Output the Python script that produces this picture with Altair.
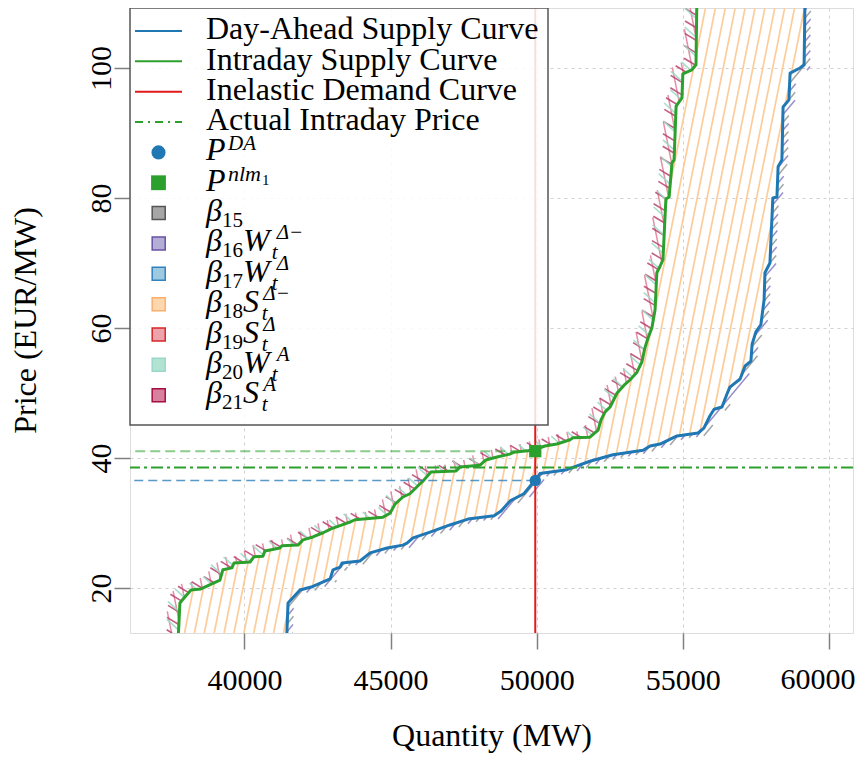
import altair as alt
import numpy as np
import pandas as pd

# ---------------- values ----------------
green_q = [37740, 37740, 37790, 37900, 38170, 38510, 39160, 39260, 39570, 39640,
           40190, 40320, 40630, 40700, 41210, 41280, 41830, 42000, 42340, 42690,
           42960, 43340, 43610, 43780, 44740, 44980, 45150, 45420, 45660, 46000,
           46140, 46380, 47240, 47370, 48060, 48260, 48640, 49080, 49220, 49670,
           50010, 50280, 50690, 51140, 51240, 51820, 52100, 52200, 52340, 52510,
           52750, 52990, 53190, 53430, 53600, 53700, 53810, 53940, 54050, 54110,
           54220, 54320, 54420, 54530, 54630, 54700, 54770, 54970, 55000, 55310,
           55450, 55480, 55480]
green_p = [5, 13.1, 17.7, 18.3, 19.7, 19.85, 21.2, 22.8, 23.1, 23.85,
           24.0, 24.8, 24.9, 25.7, 26.15, 26.5, 26.6, 27.4, 27.85, 28.5,
           29.1, 29.7, 30.15, 30.5, 30.9, 31.5, 32.9, 34.0, 34.5, 36.0,
           36.6, 37.85, 38.0, 38.6, 38.9, 39.7, 40.15, 40.6, 40.9, 41.1,
           41.4, 41.85, 42.15, 42.8, 43.1, 43.2, 44.3, 45.85, 47.1, 47.85,
           50.0, 51.2, 52.0, 53.2, 54.8, 56.9, 58.5, 60.0, 62.8, 68.5,
           69.5, 70.5, 79.85, 80.15, 85.4, 85.85, 94.15, 95.4, 99.1, 99.7,
           100.5, 110.5, 130]
blue_q = [41450, 41450, 41490, 41900, 42280, 42930, 43030, 43270, 43340, 43950,
          44300, 44880, 45420, 45560, 45770, 46350, 47030, 47650, 48540, 48780,
          49090, 49560, 49800, 49950, 50110, 51030, 51820, 52610, 53640, 53880,
          54220, 54800, 55520, 55720, 55930, 56070, 56340, 56510, 56610, 56960,
          57130, 57330, 57370, 57500, 57670, 57780, 57810, 57980, 58080, 58220,
          58260, 58390, 58430, 58630, 58670, 59010, 59150, 59180, 59180]
blue_p = [5, 13.1, 17.7, 19.7, 20.15, 21.4, 22.8, 23.2, 23.85, 24.15,
          25.4, 26.15, 26.6, 26.9, 27.7, 28.6, 29.7, 30.6, 31.1, 31.85,
          33.4, 34.5, 35.8, 36.55, 37.6, 38.2, 39.5, 40.5, 41.2, 41.85,
          42.15, 43.4, 43.85, 44.6, 46.5, 47.5, 47.85, 49.85, 50.9, 52.15,
          54.15, 54.9, 57.5, 59.4, 60.5, 64.3, 68.5, 70.0, 80.0, 80.15,
          84.8, 85.85, 94.0, 95.1, 99.2, 100.0, 100.5, 110.5, 130]
demand_q = 49950
price_da = 36.55
price_nlm = 41.05
price_actual = 38.55
x_ticks = [40000, 45000, 50000, 55000, 60000]
y_ticks = [20, 40, 60, 80, 100]
line_labels = ["Day-Ahead Supply Curve", "Intraday Supply Curve",
               "Inelastic Demand Curve", "Actual Intraday Price"]
beta_numbers = ["15", "16", "17", "18", "19", "20", "21"]
beta_vars = ["", "W", "W", "S", "S", "W", "S"]
beta_sups = ["", "\u0394\u2212", "\u0394", "\u0394\u2212", "\u0394", "A", "A"]

# ---------------- layout / style ----------------
W, H = 723, 625
X0, X1 = 36082, 60823
Y0, Y1 = 13.077, 109.23
SERIF = "Liberation Serif"
MW_PX = (X1 - X0) / W
P_PX = (Y1 - Y0) / H

gq, gp = np.array(green_q, float), np.array(green_p, float)
bq, bp = np.array(blue_q, float), np.array(blue_p, float)


def pg(q):
    return np.interp(q, gq, gp)


def pb(q):
    return np.interp(q, bq, bp)


def hatch(inside, slope, spacing, phase, step=0.4):
    """Hatch lines (pixel slope) clipped to a region defined in data space."""
    ys = np.arange(0.0, H + 1e-9, step)
    cc = [0.0, W, -H / slope, W - H / slope]
    cmin, cmax = min(cc), max(cc)
    k0 = np.floor((cmin - phase) / spacing)
    k1 = np.ceil((cmax - phase) / spacing)
    segs = []
    for k in np.arange(k0, k1 + 1):
        c = phase + spacing * k
        xs = c + ys / slope
        q = X0 + xs * MW_PX
        p = Y0 + ys * P_PX
        ok = (xs >= 0) & (xs <= W) & inside(q, p)
        if not ok.any():
            continue
        d = np.diff(np.concatenate([[0], ok.astype(int), [0]]))
        starts = np.where(d == 1)[0]
        ends = np.where(d == -1)[0] - 1
        for s, e in zip(starts, ends):
            if e > s:
                segs.append((q[s], p[s], q[e], p[e]))
    return pd.DataFrame(segs, columns=["q1", "p1", "q2", "p2"])


main_region = lambda q, p: (p < pg(q)) & (p > pb(q))
green_band = lambda q, p: (p > pg(q)) & (p < pg(q + 12 * MW_PX) + 6 * P_PX)
blue_band = lambda q, p: (p < pb(q)) & (p > pb(q - 6 * MW_PX) - 3 * P_PX)

xscale = alt.Scale(domain=[X0, X1], nice=False, zero=False)
yscale = alt.Scale(domain=[Y0, Y1], nice=False, zero=False)
x_axis = alt.Axis(values=x_ticks, format="d", title="Quantity (MW)",
                  labelExpr="datum.value >= %d ? '' : datum.label" % x_ticks[-1],
                  labelFont=SERIF, labelFontSize=30, labelColor="black",
                  labelPadding=16, labelFlush=False, labelOverlap=False,
                  labelBaseline="top",
                  tickSize=16, tickColor="#808080", tickWidth=1.5, domain=False,
                  grid=True, gridColor="#d0d0d0", gridDash=[3, 4], gridWidth=1,
                  titleFont=SERIF, titleFontSize=32, titleFontWeight="normal",
                  titleColor="black", titleX=361.5, titleY=112,
                  titleBaseline="alphabetic", titleAlign="center")
y_axis = alt.Axis(values=y_ticks, format="d", title="Price (EUR/MW)",
                  labelFont=SERIF, labelFontSize=30, labelColor="black",
                  labelAngle=270, labelAlign="center", labelBaseline="alphabetic",
                  labelPadding=4, labelFlush=False, labelOverlap=False,
                  tickSize=16, tickColor="#808080", tickWidth=1.5, domain=False,
                  grid=True, gridColor="#d0d0d0", gridDash=[3, 4], gridWidth=1,
                  titleFont=SERIF, titleFontSize=32, titleFontWeight="normal",
                  titleColor="black", titleAngle=270, titleX=-95, titleY=312,
                  titleBaseline="alphabetic", titleAlign="center")


def X(f):
    return alt.X(f, type="quantitative", scale=xscale, axis=x_axis)


def Y(f):
    return alt.Y(f, type="quantitative", scale=yscale, axis=y_axis)


def seg_layer(df, color, width, opacity=1.0):
    return alt.Chart(df).mark_rule(color=color, strokeWidth=width, opacity=opacity,
                                   clip=True).encode(
        x=X("q1"), y=Y("p1"), x2="q2", y2="p2")


layers = []
layers.append(seg_layer(hatch(main_region, 5.0, 9.9, 5.0), "#fdcc9a", 1.7))
layers.append(seg_layer(hatch(green_band, -5.0, 9.9, 2.0), "#e07b95", 1.5, 0.85))
layers.append(seg_layer(hatch(green_band, -0.6, 21.0, 0.0), "#b8436e", 1.6, 0.85))
layers.append(seg_layer(hatch(green_band, -0.9, 21.0, 10.0), "#9fd9c5", 1.6, 0.9))
layers.append(seg_layer(hatch(blue_band, 1.2, 13.0, 0.0), "#8d83c4", 1.5, 0.9))
layers.append(seg_layer(hatch(blue_band, 1.2, 13.0, 6.5), "#9a9a9a", 1.5, 0.9))

blue_df = pd.DataFrame({"q": blue_q, "p": blue_p, "i": range(len(blue_q))})
green_df = pd.DataFrame({"q": green_q, "p": green_p, "i": range(len(green_q))})
layers.append(alt.Chart(blue_df).mark_line(color="#1f77b4", strokeWidth=3, clip=True,
                                           strokeJoin="round").encode(
    x=X("q"), y=Y("p"), order="i:Q"))
layers.append(alt.Chart(green_df).mark_line(color="#2ca02c", strokeWidth=3, clip=True,
                                            strokeJoin="round").encode(
    x=X("q"), y=Y("p"), order="i:Q"))

ref_df = pd.DataFrame({"q": [demand_q], "pda": [price_da], "pn": [price_nlm],
                       "pa": [price_actual]})
layers.append(alt.Chart(ref_df).mark_rule(color="#1f77b4", strokeWidth=1.5, opacity=0.75,
                                          strokeDash=[9, 5]).encode(
    x=X("q"), x2=alt.value(0), y=Y("pda")))
layers.append(alt.Chart(ref_df).mark_rule(color="#2ca02c", strokeWidth=2, opacity=0.55,
                                          strokeDash=[10, 5]).encode(
    x=X("q"), x2=alt.value(0), y=Y("pn")))
layers.append(alt.Chart(ref_df).mark_rule(color="#2ca02c", strokeWidth=2,
                                          strokeDash=[12, 4, 3, 4]).encode(y=Y("pa")))
layers.append(alt.Chart(ref_df).mark_rule(color="#e31a1c", strokeWidth=2).encode(x=X("q")))
layers.append(alt.Chart(ref_df).mark_point(shape="circle", filled=True, size=130,
                                           color="#1f77b4", opacity=1).encode(
    x=X("q"), y=Y("pda")))
layers.append(alt.Chart(ref_df).mark_point(shape="square", filled=True, size=150,
                                           color="#2ca02c", opacity=1).encode(
    x=X("q"), y=Y("pn")))

# last x tick label, nudged left so it stays inside the page
last_tick = pd.DataFrame({"v": [x_ticks[-1]], "t": [str(x_ticks[-1])]})
layers.append(alt.Chart(last_tick).mark_text(font=SERIF, fontSize=30, color="black",
                                             baseline="top", align="center", dx=-11).encode(
    x=X("v"), y=alt.value(H + 32), text="t:N"))

# ---------------- manual legend ----------------
one = pd.DataFrame({"k": [0]})
layers.append(alt.Chart(one).mark_rect(fill="white", fillOpacity=0.85, stroke="#555555",
                                       strokeWidth=1.5).encode(
    x=alt.value(0), x2=alt.value(418), y=alt.value(0), y2=alt.value(417)))

ROW0, STEP = 23.0, 30.35
TX = 76


def row_y(i):
    return ROW0 + STEP * i


def txt(s, x, y, size, italic):
    kw = dict(font=SERIF, fontSize=size, align="left", baseline="alphabetic",
              color="black")
    if italic:
        kw["fontStyle"] = "italic"
    return alt.Chart(one).mark_text(**kw).encode(
        x=alt.value(x), y=alt.value(y), text=alt.value(s))


line_cols = ["#1f77b4", "#2ca02c", "#e31a1c", "#2ca02c"]
for i, (lab, col) in enumerate(zip(line_labels, line_cols)):
    kw = dict(color=col, strokeWidth=2)
    if i == 3:
        kw["strokeDash"] = [8, 5, 2, 5]
    layers.append(alt.Chart(one).mark_rule(**kw).encode(
        x=alt.value(5), x2=alt.value(52), y=alt.value(row_y(i))))
    layers.append(txt(lab, TX, row_y(i) + 8.3, 32, False))

layers.append(alt.Chart(one).mark_point(shape="circle", filled=True, size=200,
                                        color="#1f77b4", opacity=1).encode(
    x=alt.value(28.5), y=alt.value(row_y(4))))
b = row_y(4) + 8
layers += [txt("P", TX, b, 32, True), txt("DA", TX + 22, b - 10, 21, True)]
layers.append(alt.Chart(one).mark_point(shape="square", filled=True, size=220,
                                        color="#2ca02c", opacity=1).encode(
    x=alt.value(28.5), y=alt.value(row_y(5))))
b = row_y(5) + 8
layers += [txt("P", TX, b, 32, True), txt("nlm", TX + 22, b - 10, 22, True),
           txt("1", TX + 56, b - 6, 15, False)]

fills = ["#a6a6a6", "#b3aed6", "#9ecae1", "#fdd7b0", "#eda3ab", "#b2e2d2", "#d7819e"]
edges = ["#555555", "#6a51a3", "#3182bd", "#fdae6b", "#d62728", "#99d8c9", "#a50f3d"]
for j in range(7):
    i = 6 + j
    layers.append(alt.Chart(one).mark_square(fill=fills[j], stroke=edges[j], strokeWidth=1.5,
                                             size=170, opacity=1).encode(
        x=alt.value(28.7), y=alt.value(row_y(i))))
    b = row_y(i) + 8
    layers += [txt("\u03b2", TX, b, 32, True), txt(beta_numbers[j], TX + 16, b + 6, 21, False)]
    v = beta_vars[j]
    if v:
        if v == "W":
            tx, sx = TX + 65.7, TX + 70.7
        else:
            tx, sx = TX + 55.7, TX + 57.3
        layers += [txt(v, TX + 37, b, 32, True), txt("t", tx, b + 8, 21, True),
                   txt(beta_sups[j], sx, b - 12, 21, True)]

chart = alt.layer(*layers).properties(
    width=W, height=H,
    autosize=alt.AutoSizeParams(type="none"),
    padding={"left": 122, "top": 0, "right": 4, "bottom": 120},
).configure_view(stroke="black", strokeWidth=1.3).configure(background="white")

chart.save("out.html", embed_options={"renderer": "svg", "actions": False})
